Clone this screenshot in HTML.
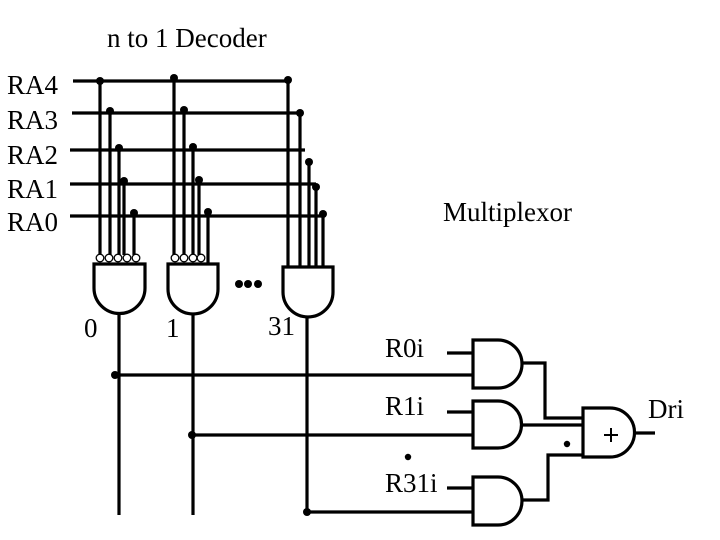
<!DOCTYPE html>
<html><head><style>
html,body{margin:0;padding:0;background:#fff;}
svg{display:block;}
text{font-family:"Liberation Serif",serif;font-size:27px;fill:#000;}
</style></head><body>
<svg width="720" height="540" viewBox="0 0 720 540" xmlns="http://www.w3.org/2000/svg">
<g stroke="#000" stroke-width="3.2" fill="none">
<line x1="73" y1="81" x2="288" y2="81"/>
<line x1="72" y1="113" x2="300" y2="113"/>
<line x1="70" y1="150" x2="305" y2="150"/>
<line x1="70" y1="184" x2="316" y2="184"/>
<line x1="70" y1="216" x2="323" y2="216"/>
<line x1="100" y1="81" x2="100" y2="255"/>
<line x1="110" y1="113" x2="110" y2="255"/>
<line x1="119" y1="150" x2="119" y2="255"/>
<line x1="124" y1="184" x2="124" y2="255"/>
<line x1="134" y1="214" x2="134" y2="255"/>
<line x1="174" y1="78" x2="174" y2="255"/>
<line x1="184" y1="111" x2="184" y2="255"/>
<line x1="193" y1="148" x2="193" y2="255"/>
<line x1="199" y1="181" x2="199" y2="255"/>
<line x1="208" y1="213" x2="208" y2="264"/>
<line x1="288" y1="81" x2="288" y2="267"/>
<line x1="300" y1="113" x2="300" y2="267"/>
<line x1="309" y1="162" x2="309" y2="267"/>
<line x1="316" y1="187" x2="316" y2="267"/>
<line x1="323" y1="214" x2="323" y2="267"/>
<path d="M94 264 H145 V288 A25.5 25.5 0 0 1 94 288 Z"/>
<path d="M168 264 H218 V289 A25 25 0 0 1 168 289 Z"/>
<path d="M283 267 H333 V292 A25 25 0 0 1 283 292 Z"/>
<line x1="119" y1="313" x2="119" y2="515"/>
<line x1="193" y1="314" x2="193" y2="515"/>
<line x1="307" y1="317" x2="307" y2="515"/>
<line x1="115" y1="375" x2="473" y2="375"/>
<line x1="192" y1="435" x2="473" y2="435"/>
<line x1="307" y1="512" x2="473" y2="512"/>
<line x1="447" y1="353" x2="473" y2="353"/>
<line x1="447" y1="412" x2="473" y2="412"/>
<line x1="447" y1="488" x2="473" y2="488"/>
<path d="M473 340 H498 A24 24 0 0 1 498 388 H473 Z"/>
<path d="M473 401 H498 A23.5 23.5 0 0 1 498 448 H473 Z"/>
<path d="M473 477 H498 A24 24 0 0 1 498 525 H473 Z"/>
<polyline points="522,363 545,363 545,418 583,418"/>
<line x1="522" y1="425" x2="583" y2="425"/>
<polyline points="522,500 548,500 548,455 583,455"/>
<path d="M583 408 H610 A24.5 24.5 0 0 1 610 457 H583 Z"/>
<line x1="635" y1="433" x2="655" y2="433"/>
<line x1="604" y1="435" x2="618" y2="435" stroke-width="2"/>
<line x1="611" y1="428" x2="611" y2="442" stroke-width="2"/>
</g>
<g fill="#fff" stroke="#000" stroke-width="1.3">
<circle cx="100" cy="258" r="3.8"/><circle cx="109" cy="258" r="3.8"/><circle cx="118" cy="258" r="3.8"/><circle cx="127" cy="258" r="3.8"/><circle cx="136" cy="258" r="3.8"/>
<circle cx="175" cy="258" r="3.8"/><circle cx="184" cy="258" r="3.8"/><circle cx="193" cy="258" r="3.8"/><circle cx="201" cy="258" r="3.8"/>
</g>
<g fill="#000">
<circle cx="100" cy="81" r="4"/><circle cx="174" cy="78" r="4"/><circle cx="288" cy="80" r="4"/>
<circle cx="110" cy="111" r="4"/><circle cx="184" cy="110" r="4"/><circle cx="300" cy="113" r="4"/>
<circle cx="119" cy="148" r="4"/><circle cx="193" cy="147" r="4"/><circle cx="309" cy="162" r="4"/>
<circle cx="124" cy="181" r="4"/><circle cx="199" cy="180" r="4"/><circle cx="316" cy="187" r="4"/>
<circle cx="134" cy="213" r="4"/><circle cx="208" cy="212" r="4"/><circle cx="323" cy="214" r="4"/>
<circle cx="239" cy="284" r="4"/><circle cx="248" cy="284" r="4"/><circle cx="258" cy="284" r="4"/>
<circle cx="115" cy="375" r="4"/><circle cx="192" cy="435" r="4"/><circle cx="307" cy="512" r="4"/>
<circle cx="567" cy="444" r="3.2"/><circle cx="408" cy="457" r="3.2"/>
</g>
<text x="107" y="47">n to 1 Decoder</text>
<text x="7" y="94">RA4</text>
<text x="7" y="129">RA3</text>
<text x="7" y="164">RA2</text>
<text x="7" y="198">RA1</text>
<text x="7" y="231">RA0</text>
<text x="443" y="221">Multiplexor</text>
<text x="84" y="337">0</text>
<text x="166" y="337">1</text>
<text x="268" y="335">31</text>
<text x="385" y="357">R0i</text>
<text x="385" y="415">R1i</text>
<text x="385" y="492">R31i</text>
<text x="648" y="418">Dri</text>
</svg>
</body></html>
